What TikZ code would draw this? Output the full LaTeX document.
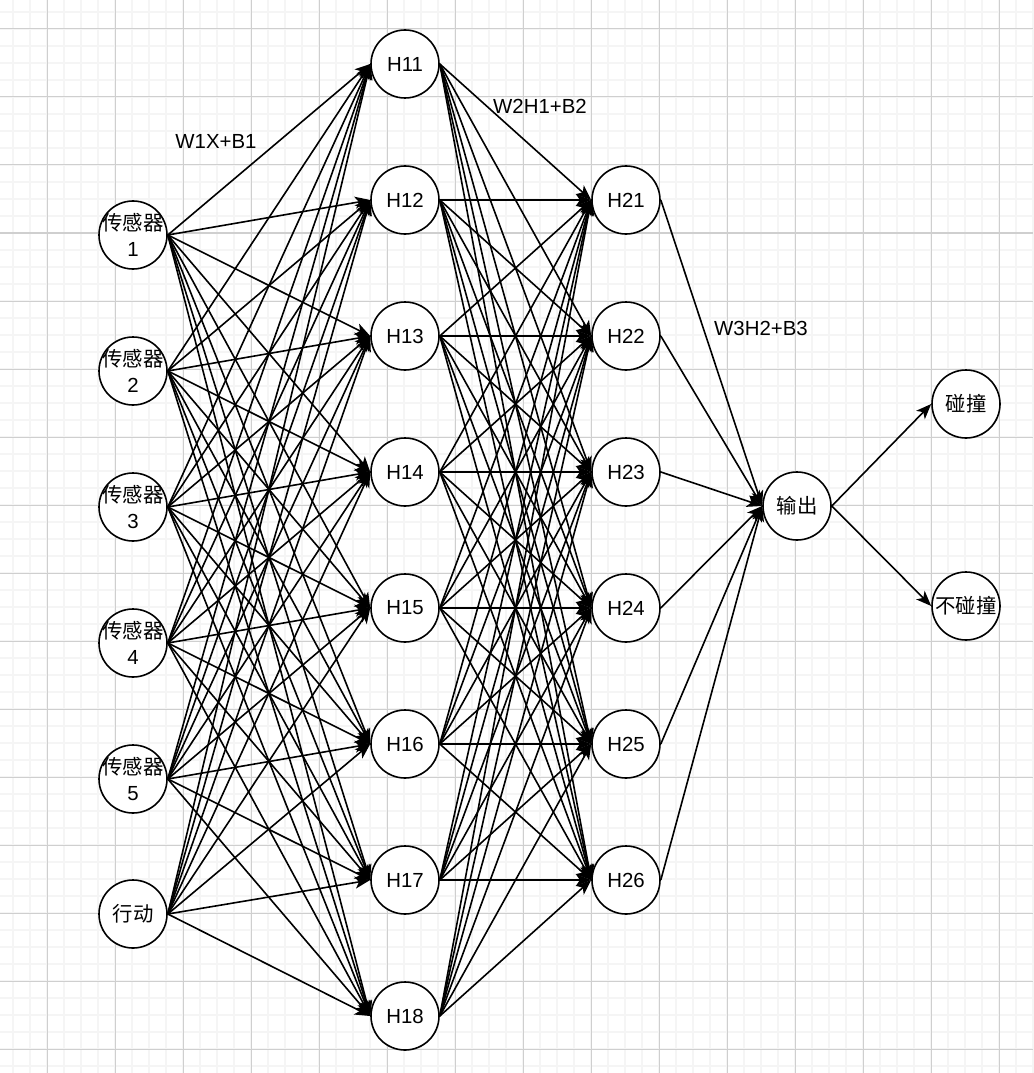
\documentclass[tikz,border=0pt]{standalone}
\usepackage{fontspec}
\setmainfont{Liberation Sans}
\newfontfamily\cjk{Noto Sans CJK SC}
\usetikzlibrary{arrows.meta}
\newcommand{\zw}[1]{\makebox[0pt][c]{#1}}
\begin{document}
\begin{tikzpicture}[x=0.75pt,y=-0.75pt,
  minorgrid/.style={draw=black!4,line width=1.1pt},
  majorgrid/.style={draw=black!19,line width=0.75pt},
  neuron/.style={circle,draw=black,fill=white,line width=1.2pt,minimum size=51pt,inner sep=0pt,
     font=\fontsize{15.3}{19}\selectfont,align=center},
  edge/.style={draw=black,line width=1.2pt,-{Stealth[length=11.5pt,width=9pt,inset=3pt]}},
  lbl/.style={font=\fontsize{15.3}{19}\selectfont,inner sep=0pt}]
\useasboundingbox (0,0) rectangle (1033,1073);
\fill[white] (0,0) rectangle (1033,1073);
% grid
\foreach \x in {13,30,...,1033} \draw[minorgrid] (\x,0) -- (\x,1073);
\foreach \y in {12,29,...,1073} \draw[minorgrid] (0,\y) -- (1033,\y);
\foreach \x in {47,115,...,1033} \draw[majorgrid] (\x,0) -- (\x,1073);
\foreach \y in {29,97,...,1073} \draw[majorgrid] (0,\y) -- (1033,\y);
% inputs
\node[neuron] (in1) at (133,235) {\zw{\cjk 传感器}\\1};
\node[neuron] (in2) at (133,371) {\zw{\cjk 传感器}\\2};
\node[neuron] (in3) at (133,507) {\zw{\cjk 传感器}\\3};
\node[neuron] (in4) at (133,643) {\zw{\cjk 传感器}\\4};
\node[neuron] (in5) at (133,779) {\zw{\cjk 传感器}\\5};
\node[neuron] (in6) at (133,914) {\cjk 行动};
% hidden 1
\foreach \j in {1,...,8} {
  \node[neuron] (ha\j) at (405,{64+136*(\j-1)}) {H1\j};
}
% hidden 2
\foreach \j in {1,...,6} {
  \node[neuron] (hb\j) at (626,{200+136*(\j-1)}) {H2\j};
}
\node[neuron] (out) at (797,506) {\cjk 输出};
\node[neuron] (c1) at (966,404) {\cjk 碰撞};
\node[neuron] (c2) at (966,606) {\zw{\cjk 不碰撞}};
% edges
\foreach \i in {1,...,6} \foreach \j in {1,...,8} \draw[edge] (in\i.east) -- (ha\j.west);
\foreach \i in {1,...,8} \foreach \j in {1,...,6} \draw[edge] (ha\i.east) -- (hb\j.west);
\foreach \i in {1,...,6} \draw[edge] (hb\i.east) -- (out.west);
\draw[edge] (out.east) -- (c1.west);
\draw[edge] (out.east) -- (c2.west);
% labels
\node[lbl] (l1) at (216,141) {W1X+B1};
\node[lbl] (l2) at (540,106) {W2H1+B2};
\node[lbl] (l3) at (761,328) {W3H2+B3};
\end{tikzpicture}
\end{document}
